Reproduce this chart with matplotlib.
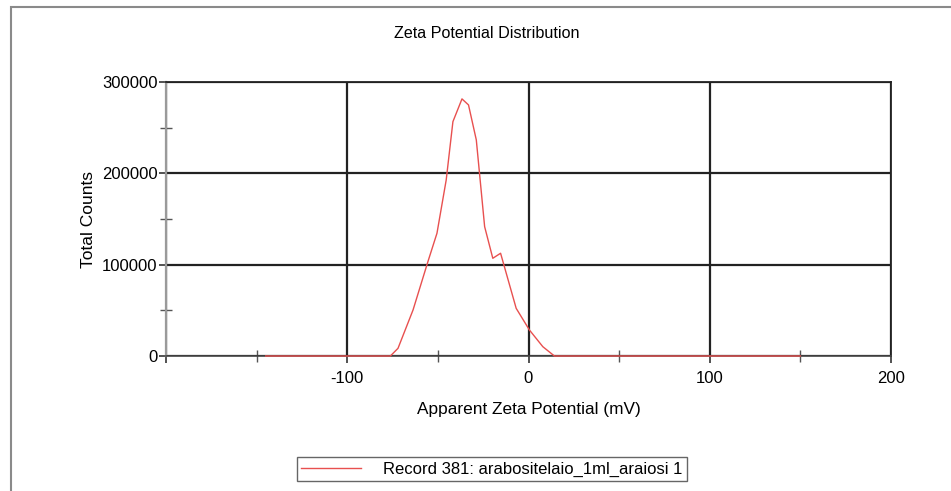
import matplotlib.pyplot as plt
from matplotlib.patches import Rectangle
from matplotlib.ticker import MultipleLocator

# zeta potential (mV) and total counts
zeta = [-145, -76.2, -72, -63.7, -55.5, -50.5, -45.4, -41.7, -36.7, -33.1,
        -28.8, -24.2, -19.7, -15.4, -6.8, 0.5, 7.9, 14.3, 150]
counts = [0, 0, 8400, 50400, 103300, 134400, 192800, 256600, 281500, 274900,
          236600, 141600, 107000, 112500, 52200, 28500, 10200, 0, 0]

x_ticks = [-200, -100, 0, 100, 200]
x_labels = ["", "-100", "0", "100", "200"]
y_ticks = [0, 100000, 200000, 300000]
y_labels = ["0", "100000", "200000", "300000"]

plt.rcParams['font.family'] = ['Liberation Sans', 'DejaVu Sans']

fig = plt.figure(figsize=(9.51, 4.91), dpi=100)
ax = fig.add_axes([166 / 951, 1 - 356 / 491, 725 / 951, 274 / 491])

# outer frame of the report page (left and top edges only are visible)
fig.add_artist(Rectangle((11 / 951, -0.2), 1.2, 1 - 7 / 491 + 0.2,
                         transform=fig.transFigure, fill=False,
                         edgecolor='#8a8a8a', linewidth=1.5, clip_on=False))

ax.plot(zeta, counts, color='#e8504f', linewidth=1.0, zorder=5,
        clip_on=False, label="Record 381: arabositelaio_1ml_araiosi 1")

ax.set_xlim(-200, 200)
ax.set_ylim(0, 300000)
ax.set_xticks(x_ticks)
ax.set_xticklabels(x_labels)
ax.set_yticks(y_ticks)
ax.set_yticklabels(y_labels)
ax.xaxis.set_minor_locator(MultipleLocator(50))
ax.yaxis.set_minor_locator(MultipleLocator(50000))

ax.tick_params(which='major', direction='out', length=5, width=1.2,
               color='#333333', labelsize=12)
ax.tick_params(axis='y', which='major', pad=1)
ax.tick_params(axis='x', which='major', pad=6)
ax.tick_params(which='minor', direction='inout', length=8, width=1,
               color='#555555')

ax.grid(True, which='major', color='#222222', linewidth=1.6)
for side in ['top', 'right']:
    ax.spines[side].set_color('#222222')
    ax.spines[side].set_linewidth(1.3)
ax.spines['bottom'].set_color('#444444')
ax.spines['bottom'].set_linewidth(1.2)
ax.spines['left'].set_color('#9a9a9a')
ax.spines['left'].set_linewidth(1.6)

ax.set_xlabel("Apparent Zeta Potential (mV)", fontsize=12.4, labelpad=11)
ax.set_ylabel("Total Counts", fontsize=12.5, labelpad=4)
fig.text(0.512, 1 - 33.5 / 491, "Zeta Potential Distribution", ha='center',
         va='center', fontsize=11.6)

leg = fig.legend(loc='center', bbox_to_anchor=(492 / 951, 1 - 469 / 491),
                 fontsize=12, fancybox=False, framealpha=1,
                 edgecolor='#666666', handlelength=3.6, handletextpad=1.3,
                 borderpad=0.25, borderaxespad=0)
leg.get_frame().set_linewidth(1.0)

fig.savefig("out.png", dpi=100)
